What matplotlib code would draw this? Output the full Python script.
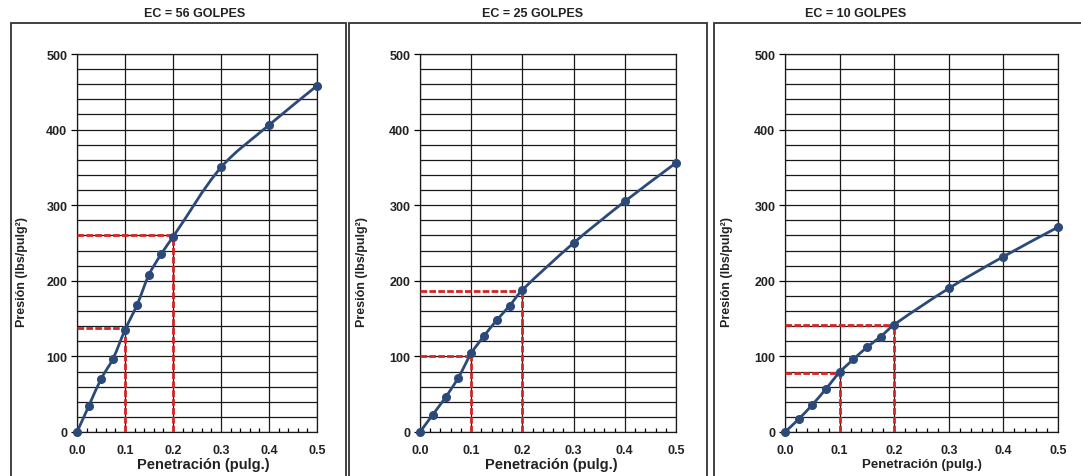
import matplotlib
matplotlib.use('Agg')
import matplotlib.pyplot as plt
from matplotlib.path import Path
from matplotlib.patches import PathPatch, Rectangle
import numpy as np

plt.rcParams['font.family'] = ['Liberation Sans', 'DejaVu Sans']

# Penetration readings (inches), shared by the three specimens
penetracion = [0.0, 0.025, 0.05, 0.075, 0.1, 0.125, 0.15, 0.175, 0.2, 0.3, 0.4, 0.5]

# Pressure readings (lbs/pulg2) per compaction energy
presion_56 = [0, 35, 70, 97, 135, 168, 208, 235, 258, 350, 406, 458]
presion_25 = [0, 23, 46, 72, 104, 127, 148, 167, 188, 250, 305, 356]
presion_10 = [0, 17, 36, 57, 79, 96, 112, 126, 142, 190, 232, 271]

titulos = ['EC = 56 GOLPES', 'EC = 25 GOLPES', 'EC = 10 GOLPES']

# Corrected pressures read at 0.1" and 0.2"
lectura_x = [0.1, 0.2]
lectura_56 = [138, 260]
lectura_25 = [100, 186]
lectura_10 = [78, 142]

W, H = 1081, 477
AZUL = '#2B4A7A'
ROJO = '#D42626'


def fx(px):
    return px / W


def fy(py):
    return 1 - py / H


def smooth_path(xs, ys, sx, sy):
    """Bezier path through the points, tangents from chord lengths in screen units."""
    pts = np.column_stack([xs, ys]).astype(float)
    scr = pts * [sx, sy]
    t = np.concatenate([[0], np.cumsum(np.hypot(*np.diff(scr, axis=0).T))])
    n = len(pts)
    tang = np.zeros_like(pts)
    for i in range(n):
        a, b = max(i - 1, 0), min(i + 1, n - 1)
        tang[i] = (pts[b] - pts[a]) / (t[b] - t[a])
    verts = [pts[0]]
    codes = [Path.MOVETO]
    for i in range(n - 1):
        h = (t[i + 1] - t[i]) / 3.0
        verts += [pts[i] + tang[i] * h, pts[i + 1] - tang[i + 1] * h, pts[i + 1]]
        codes += [Path.CURVE4] * 3
    return Path(verts, codes)


fig = plt.figure(figsize=(W / 100, H / 100), dpi=100)

# outer frames around each chart
frames = [(11, 346), (349, 707), (714, 1090)]
for x0, x1 in frames:
    fig.patches.append(Rectangle((fx(x0), -0.1), fx(x1) - fx(x0), fy(24) + 0.1,
                                 transform=fig.transFigure, fill=False,
                                 edgecolor='#333333', linewidth=1.3))

paneles = [
    dict(box=(77, 317), y=presion_56, lect=lectura_56, title_x=195,
         xlab_x=203, xlab_fs=10.5, ylab_x=22),
    dict(box=(420, 676), y=presion_25, lect=lectura_25, title_x=533,
         xlab_x=551, xlab_fs=10.5, ylab_x=362),
    dict(box=(785, 1058), y=presion_10, lect=lectura_10, title_x=856,
         xlab_x=922, xlab_fs=9.5, ylab_x=727),
]

top, bottom = 55, 433
for titulo, p in zip(titulos, paneles):
    left, right = p['box']
    ax = fig.add_axes([fx(left), fy(bottom), fx(right) - fx(left), fy(top) - fy(bottom)])
    ax.set_xlim(0, 0.5)
    ax.set_ylim(0, 500)

    ax.set_yticks(np.arange(0, 501, 100))
    ax.set_yticks(np.arange(0, 501, 20), minor=True)
    ax.set_xticks(np.arange(0, 0.51, 0.1))
    ax.set_xticks(np.arange(0, 0.501, 0.02), minor=True)
    ax.set_xticklabels([f'{v:.1f}' for v in np.arange(0, 0.51, 0.1)])
    ax.grid(True, which='both', axis='y', color='#1a1a1a', linewidth=0.9)
    ax.grid(True, which='major', axis='x', color='#1a1a1a', linewidth=0.9)
    ax.tick_params(axis='y', which='major', direction='out', length=4, width=0.9,
                   labelsize=9, pad=3)
    ax.tick_params(axis='y', which='minor', length=0)
    ax.tick_params(axis='x', which='major', length=0, labelsize=9, pad=9)
    ax.tick_params(axis='x', which='minor', direction='in', length=3, width=0.9)
    for lbl in ax.get_xticklabels() + ax.get_yticklabels():
        lbl.set_fontweight('bold')
        lbl.set_color('#222222')
    for s in ax.spines.values():
        s.set_color('#1a1a1a')
        s.set_linewidth(0.9)
    ax.set_axisbelow(True)

    # red dashed guides at 0.1 and 0.2 in.
    for xv, yv in zip(lectura_x, p['lect']):
        ax.plot([0, xv], [yv, yv], color=ROJO, lw=2, linestyle=(0, (2.4, 0.8)), zorder=3)
        ax.plot([xv, xv], [0, yv], color=ROJO, lw=2, linestyle=(0, (2.4, 0.8)), zorder=3)

    sx = (right - left) / 0.5
    sy = (bottom - top) / 500.0
    ax.add_patch(PathPatch(smooth_path(penetracion, p['y'], sx, sy), fill=False,
                           edgecolor=AZUL, lw=2, zorder=4, clip_on=False))
    ax.plot(penetracion, p['y'], 'o', color=AZUL, markersize=5.5, zorder=5, clip_on=False)

    fig.text(fx(p['title_x']), fy(14), titulo, ha='center', va='center',
             fontsize=9, fontweight='bold', color='#222222')
    fig.text(fx(p['xlab_x']), fy(465), 'Penetración (pulg.)', ha='center', va='center',
             fontsize=p['xlab_fs'], fontweight='bold', color='#222222')
    fig.text(fx(p['ylab_x']), fy(272), 'Presión (lbs/pulg²)', ha='center', va='center',
             rotation=90, fontsize=9, fontweight='bold', color='#222222')

fig.savefig('out.png', dpi=100, facecolor='white')
